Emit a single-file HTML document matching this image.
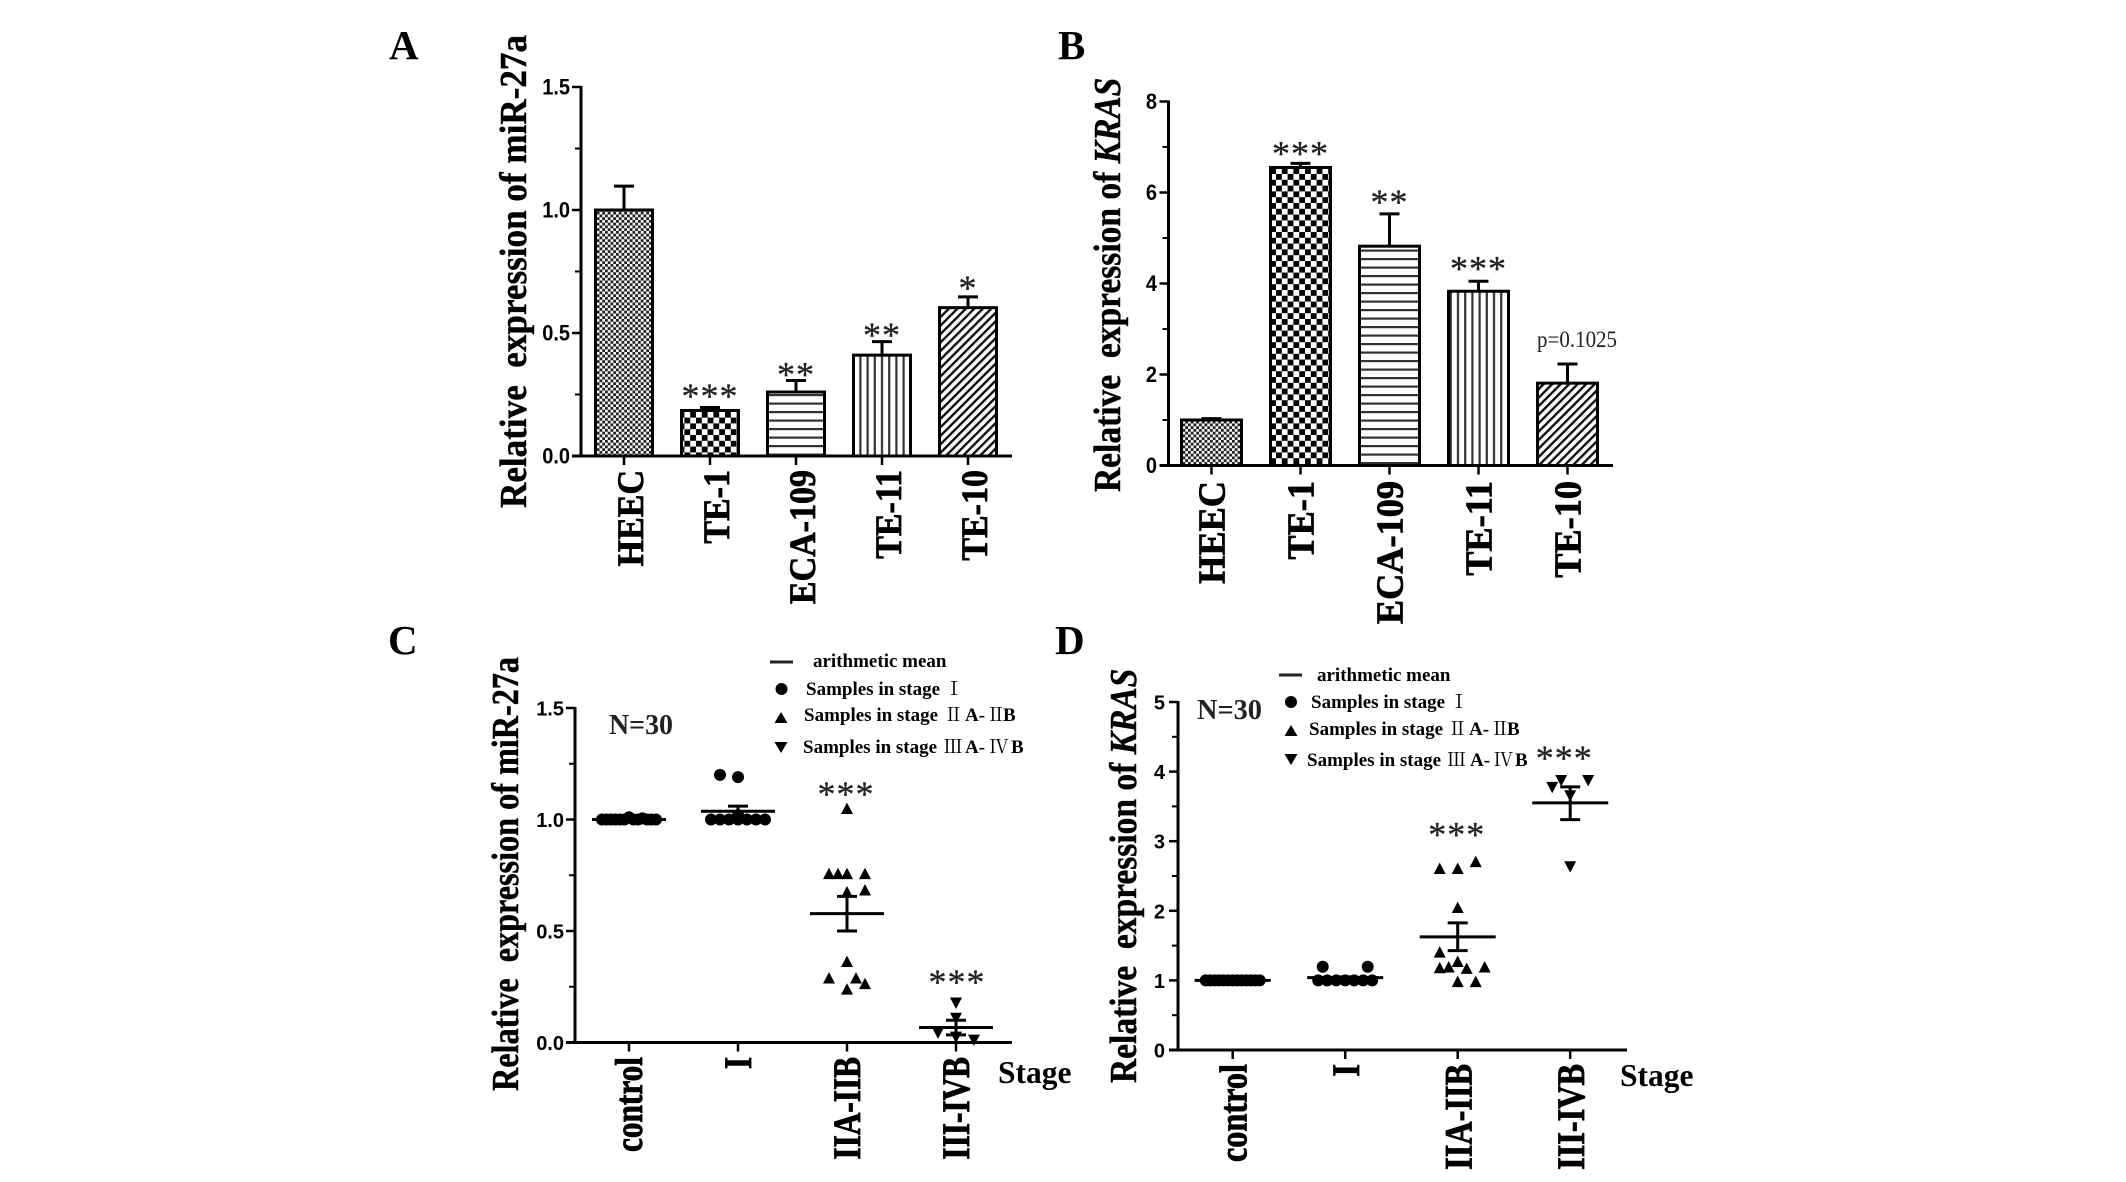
<!DOCTYPE html>
<html lang="en">
<head>
<meta charset="utf-8">
<title>miR-27a and KRAS expression figure</title>
<style>
  html, body { margin: 0; padding: 0; background: #fff; }
  body { width: 2126px; height: 1182px; overflow: hidden; }
  svg { display: block; filter: blur(0.35px); }
  text { white-space: pre; fill: #000; }
  .serif { font-family: "Liberation Serif", "Noto Serif CJK SC", serif; font-weight: 700; }
  .sans { font-family: "Liberation Sans", sans-serif; font-weight: 700; }
  .cjk { font-family: "Noto Serif CJK SC", "Liberation Serif", serif; font-weight: 400; }
  .heavy { stroke: #000; stroke-width: 0.4px; }
  .heavier { stroke: #000; stroke-width: 0.7px; }
</style>
</head>
<body>
<svg id="figure" width="2126" height="1182" viewBox="0 0 2126 1182">
  <defs>
    <pattern id="fine-check" width="5.5" height="5.5" patternUnits="userSpaceOnUse">
      <rect width="5.5" height="5.5" fill="#f4f4f4"/>
      <rect width="2.75" height="2.75" fill="#222"/>
      <rect x="2.75" y="2.75" width="2.75" height="2.75" fill="#222"/>
    </pattern>
    <pattern id="big-check" width="11.6" height="11.6" patternUnits="userSpaceOnUse">
      <rect width="11.6" height="11.6" fill="#fff"/>
      <rect width="5.8" height="5.8" fill="#000"/>
      <rect x="5.8" y="5.8" width="5.8" height="5.8" fill="#000"/>
    </pattern>
    <pattern id="h-stripes" width="8.5" height="8.5" patternUnits="userSpaceOnUse">
      <rect width="8.5" height="8.5" fill="#fff"/>
      <rect y="3" width="8.5" height="2.2" fill="#333"/>
    </pattern>
    <pattern id="v-stripes" width="7.2" height="7.2" patternUnits="userSpaceOnUse">
      <rect width="7.2" height="7.2" fill="#fff"/>
      <rect x="2.5" width="2.2" height="7.2" fill="#333"/>
    </pattern>
    <pattern id="diag-stripes" width="6" height="6" patternUnits="userSpaceOnUse" patternTransform="rotate(-45)">
      <rect width="6" height="6" fill="#fff"/>
      <rect width="6" height="2.4" fill="#111"/>
    </pattern>
  </defs>

  <g>
    <text class="serif" x="389" y="59" font-size="41">A</text>
    <text class="serif" x="1058" y="59" font-size="41">B</text>
    <text class="serif" x="388" y="654" font-size="41">C</text>
    <text class="serif" x="1055" y="654" font-size="41">D</text>
  </g>

  <text class="serif heavy" transform="translate(526,508) rotate(-90) scale(1,1.05)" font-size="35.8" textLength="473" lengthAdjust="spacingAndGlyphs">Relative  expression of miR-27a</text>
  <text class="serif heavy" transform="translate(1120,492) rotate(-90) scale(1,1.13)" font-size="33.5">Relative  expression of <tspan font-style="italic">KRAS</tspan></text>
  <text class="serif heavy" transform="translate(518,1091) rotate(-90) scale(1,1.15)" font-size="32.9" textLength="434" lengthAdjust="spacingAndGlyphs">Relative  expression of miR-27a</text>
  <text class="serif heavy" transform="translate(1136,1083) rotate(-90) scale(1,1.13)" font-size="33.5">Relative  expression of <tspan font-style="italic">KRAS</tspan></text>

  <text transform="translate(1537,347) scale(1,1.1)" font-family="Liberation Serif, serif" font-size="21" style="fill:#222">p=0.1025</text>

  <text class="serif" x="609" y="734" font-size="28" textLength="64" lengthAdjust="spacingAndGlyphs" style="fill:#222">N=30</text>
  <text class="serif" x="1197" y="719" font-size="28" textLength="65" lengthAdjust="spacingAndGlyphs" style="fill:#222">N=30</text>
  <text class="serif" x="998" y="1083" font-size="31.5">Stage</text>
  <text class="serif" x="1620" y="1086" font-size="31.5">Stage</text>

  <g>
    <rect x="770" y="660.5" width="23" height="3" fill="#222"/>
    <text class="serif" x="813" y="667" font-size="19">arithmetic mean</text>
    <circle cx="781.5" cy="689" r="6" fill="#000"/>
    <text class="serif" x="806" y="695" font-size="19">Samples in stage<tspan class="cjk" x="944.5">Ⅰ</tspan></text>
    <path d="M781 712 L787.5 723 L774.5 723 Z" fill="#000"/>
    <text class="serif" x="804" y="721" font-size="19">Samples in stage<tspan class="cjk" x="944">Ⅱ</tspan><tspan x="965">A-</tspan><tspan class="cjk" x="986.5">Ⅱ</tspan><tspan x="1003">B</tspan></text>
    <path d="M781 753 L787.5 742 L774.5 742 Z" fill="#000"/>
    <text class="serif" x="803" y="753" font-size="19">Samples in stage<tspan class="cjk" x="943.5">Ⅲ</tspan><tspan x="965">A-</tspan><tspan class="cjk" x="989.5">Ⅳ</tspan><tspan x="1011">B</tspan></text>
  </g>

  <g>
    <rect x="1279" y="673.5" width="23" height="3" fill="#222"/>
    <text class="serif" x="1317" y="681" font-size="19">arithmetic mean</text>
    <circle cx="1291" cy="702" r="6" fill="#000"/>
    <text class="serif" x="1311" y="708" font-size="19">Samples in stage<tspan class="cjk" x="1449.5">Ⅰ</tspan></text>
    <path d="M1291 725 L1297.5 736 L1284.5 736 Z" fill="#000"/>
    <text class="serif" x="1309" y="735" font-size="19">Samples in stage<tspan class="cjk" x="1448">Ⅱ</tspan><tspan x="1469">A-</tspan><tspan class="cjk" x="1490.5">Ⅱ</tspan><tspan x="1507">B</tspan></text>
    <path d="M1291 765 L1297.5 754 L1284.5 754 Z" fill="#000"/>
    <text class="serif" x="1307" y="766" font-size="19">Samples in stage<tspan class="cjk" x="1447">Ⅲ</tspan><tspan x="1470">A-</tspan><tspan class="cjk" x="1494">Ⅳ</tspan><tspan x="1515">B</tspan></text>
  </g>
</svg>

<script>
/* ---------- Panel A data ---------- */
const barCategoriesA = ['HEEC', 'TE-1', 'ECA-109', 'TE-11', 'TE-10'];
const barValuesA = [1.0, 0.185, 0.26, 0.41, 0.603];
const barErrorsA = [0.097, 0.012, 0.047, 0.055, 0.044];
const barStarsA = ['', '***', '**', '**', '*'];
const starLevelsA = [0, 0.256, 0.344, 0.505, 0.695];
const yTicksA = [0, 0.5, 1.0, 1.5];
const yTickLabelsA = ['0.0', '0.5', '1.0', '1.5'];
const yMinorTicksA = [0.25, 0.75, 1.25];

/* ---------- Panel B data ---------- */
const barCategoriesB = ['HEEC', 'TE-1', 'ECA-109', 'TE-11', 'TE-10'];
const barValuesB = [1.0, 6.55, 4.82, 3.83, 1.81];
const barErrorsB = [0.03, 0.09, 0.71, 0.22, 0.42];
const barStarsB = ['', '***', '**', '***', ''];
const starLevelsB = [0, 6.92, 5.86, 4.40, 0];
const yTicksB = [0, 2, 4, 6, 8];
const yTickLabelsB = ['0', '2', '4', '6', '8'];
const yMinorTicksB = [1, 3, 5, 7];

/* ---------- Panel C data ---------- */
const groupLabelsC = ['control', 'I', 'IIA-IIB', 'III-IVB'];
const groupMarkersC = ['circle', 'circle', 'triangle', 'inverted'];
const groupValuesC = [
  [1, 1, 1, 1, 1, 1, 1.01, 1, 1, 1.005, 1, 1, 1],
  [1, 1, 1, 1, 1, 1, 1, 1.02, 1.2, 1.19],
  [1.05, 0.758, 0.758, 0.758, 0.758, 0.676, 0.685, 0.364, 0.29, 0.29, 0.265, 0.24],
  [0.176, 0.108, 0.042, 0.023, 0.01]
];
const groupSlotsC = [
  [-3, -2.5, -2, -1.5, -1, -0.5, 0, 0.5, 1, 1.5, 2, 2.5, 3],
  [-3, -2, -1, 0, 1, 2, 3, 0, -2, 0],
  [0, -2, -1, 0, 2, 0, 2, 0, -2, 1, 2, 0],
  [0, 0, -2, 0, 2]
];
const groupMeansC = [1.0, 1.037, 0.578, 0.067];
const groupUpperC = [1.0, 1.06, 0.655, 0.1];
const groupLowerC = [1.0, 1.014, 0.5, 0.034];
const groupStarsC = ['', '', '***', '***'];
const starLevelsC = [0, 0, 1.128, 0.284];
const yTicksC = [0, 0.5, 1.0, 1.5];
const yTickLabelsC = ['0.0', '0.5', '1.0', '1.5'];
const yMinorTicksC = [0.25, 0.75, 1.25];

/* ---------- Panel D data ---------- */
const groupLabelsD = ['control', 'I', 'IIA-IIB', 'III-IVB'];
const groupMarkersD = ['circle', 'circle', 'triangle', 'inverted'];
const groupValuesD = [
  [1, 1, 1, 1, 1, 1, 1, 1, 1, 1, 1, 1, 1],
  [1, 1, 1, 1, 1, 1, 1, 1.196, 1.196],
  [2.61, 2.61, 2.71, 2.05, 1.41, 1.275, 1.196, 1.185, 1.175, 1.196, 0.986, 0.986],
  [3.87, 3.87, 3.77, 3.65, 2.63]
];
const groupSlotsD = [
  [-3, -2.5, -2, -1.5, -1, -0.5, 0, 0.5, 1, 1.5, 2, 2.5, 3],
  [-3, -2, -1, 0, 1, 2, 3, -2.5, 2.5],
  [-2, 0, 2, 0, -2, 0, -1, -2, 1, 3, 0, 2],
  [-1, 2, -2, 0, 0]
];
const groupMeansD = [1.0, 1.04, 1.626, 3.55];
const groupUpperD = [1.0, 1.05, 1.826, 3.78];
const groupLowerD = [1.0, 1.03, 1.427, 3.31];
const groupStarsD = ['', '', '***', '***'];
const starLevelsD = [0, 0, 3.14, 4.24];
const yTicksD = [0, 1, 2, 3, 4, 5];
const yTickLabelsD = ['0', '1', '2', '3', '4', '5'];
const yMinorTicksD = [0.5, 1.5, 2.5, 3.5, 4.5];

const barFills = ['url(#fine-check)', 'url(#big-check)', 'url(#h-stripes)', 'url(#v-stripes)', 'url(#diag-stripes)'];

const NS = 'http://www.w3.org/2000/svg';
const root = document.getElementById('figure');

function shape(tag, name, parent) {
  const el = document.createElementNS(NS, tag);
  
  
  parent.appendChild(el);
  return el;
}

function line(name, parent, x1, y1, x2, y2, width) {
  const el = shape('line', name, parent);
  el.setAttribute('x1', x1);
  el.setAttribute('y1', y1);
  el.setAttribute('x2', x2);
  el.setAttribute('y2', y2);
  el.setAttribute('stroke', '#000');
  el.setAttribute('stroke-width', width);
  return el;
}

function yAxisFn(geom) {
  return function (v) {
    return geom.y0 - (v / geom.vMax) * (geom.y0 - geom.yTop);
  };
}

function drawAxes(key, geom, ticks, labels, minor, y, group) {
  line('y-axis-' + key, group, geom.x0, geom.yTop - 1, geom.x0, geom.y0 + 1.5, 3);
  line('x-axis-' + key, group, geom.x0 - 9, geom.y0, geom.xEnd, geom.y0, 3);
  ticks.forEach(function (t, i) {
    if (t !== 0) {
      line('y-tick-' + key + '-' + labels[i], group, geom.x0 - 9, y(t), geom.x0, y(t), 2.5);
    }
    const lab = shape('text', 'y-tick-label-' + key + '-' + labels[i], group);
    lab.setAttribute('class', 'sans');
    lab.setAttribute('font-size', geom.tickSize);
    lab.setAttribute('text-anchor', 'end');
    lab.setAttribute('transform', 'translate(' + geom.tickRight + ',' + (y(t) + 7.5) + ') scale(1,' + geom.tickStretch + ')');
    lab.textContent = labels[i];
  });
  minor.forEach(function (t) {
    line('y-minor-tick-' + key, group, geom.x0 - 6, y(t), geom.x0, y(t), 2);
  });
}

function drawCategoryLabel(key, text, geom, x, group) {
  const lab = shape('text', 'x-tick-label-' + key + '-' + text, group);
  lab.setAttribute('class', 'serif heavier');
  lab.setAttribute('font-size', geom.labelSize);
  lab.setAttribute('text-anchor', 'end');
  lab.setAttribute('transform', 'translate(' + (x + geom.labelShift) + ',' + geom.labelTop + ') rotate(-90) scale(1,' + geom.labelStretch + ')');
  lab.textContent = text;
}

function drawStars(key, text, x, centerY, group) {
  if (!text) { return; }
  const s = shape('text', 'significance-stars-' + key, group);
  s.setAttribute('font-family', 'Liberation Serif, serif');
  s.setAttribute('font-size', 36);
  s.setAttribute('text-anchor', 'middle');
  s.setAttribute('letter-spacing', '1');
  s.setAttribute('x', x);
  s.setAttribute('y', centerY + 15);
  s.setAttribute('style', 'fill:#222;stroke:#222;stroke-width:0.3px');
  s.textContent = text;
}

function drawBarPanel(key, geom, cats, vals, errs, stars, starLevels, ticks, labels, minor) {
  const group = shape('g', 'bar-chart-' + key, root);
  const y = yAxisFn(geom);
  cats.forEach(function (c, i) {
    const cx = geom.firstX + i * geom.step;
    line('error-bar-' + key + '-' + c, group, cx, y(vals[i]), cx, y(vals[i] + errs[i]), 3);
    line('error-cap-' + key + '-' + c, group, cx - 10, y(vals[i] + errs[i]), cx + 10, y(vals[i] + errs[i]), 3);
    const bar = shape('rect', 'bar-' + key + '-' + c, group);
    bar.setAttribute('x', cx - geom.barWidth / 2);
    bar.setAttribute('y', y(vals[i]));
    bar.setAttribute('width', geom.barWidth);
    bar.setAttribute('height', geom.y0 - y(vals[i]));
    bar.setAttribute('fill', barFills[i]);
    bar.setAttribute('stroke', '#000');
    bar.setAttribute('stroke-width', 3);
    line('x-tick-' + key + '-' + c, group, cx, geom.y0, cx, geom.y0 + 9, 2.5);
    drawCategoryLabel(key, c, geom, cx, group);
    drawStars(key + '-' + c, stars[i], cx, y(starLevels[i]), group);
  });
  drawAxes(key, geom, ticks, labels, minor, y, group);
}

function drawMarker(kind, name, parent, x, py, size) {
  if (kind === 'circle') {
    const c = shape('circle', name, parent);
    c.setAttribute('cx', x);
    c.setAttribute('cy', py);
    c.setAttribute('r', size);
    c.setAttribute('fill', '#000');
    return;
  }
  const p = shape('path', name, parent);
  const dir = kind === 'triangle' ? 1 : -1;
  const h = size * 0.95;
  p.setAttribute('d', 'M' + x + ' ' + (py - dir * h) + ' L' + (x + size) + ' ' + (py + dir * h) + ' L' + (x - size) + ' ' + (py + dir * h) + ' Z');
  p.setAttribute('fill', '#000');
}

function drawScatterPanel(key, geom, cats, markers, vals, slots, means, upper, lower, stars, starLevels, ticks, labels, minor) {
  const group = shape('g', 'scatter-chart-' + key, root);
  const y = yAxisFn(geom);
  cats.forEach(function (c, i) {
    const cx = geom.firstX + i * geom.step;
    vals[i].forEach(function (v, j) {
      drawMarker(markers[i], 'point-' + key + '-' + c, group, cx + slots[i][j] * geom.slot, y(v), geom.markerSize);
    });
    line('mean-line-' + key + '-' + c, group, cx - geom.meanHalf, y(means[i]), cx + geom.meanHalf, y(means[i]), 3);
    if (upper[i] !== lower[i]) {
      line('sem-stem-' + key + '-' + c, group, cx, y(upper[i]), cx, y(lower[i]), 3);
      line('sem-cap-upper-' + key + '-' + c, group, cx - 10, y(upper[i]), cx + 10, y(upper[i]), 3);
      line('sem-cap-lower-' + key + '-' + c, group, cx - 10, y(lower[i]), cx + 10, y(lower[i]), 3);
    }
    line('x-tick-' + key + '-' + c, group, cx, geom.y0, cx, geom.y0 + 9, 2.5);
    drawCategoryLabel(key, c, geom, cx, group);
    drawStars(key + '-' + c, stars[i], cx + geom.starShift[i], y(starLevels[i]), group);
  });
  drawAxes(key, geom, ticks, labels, minor, y, group);
}

drawBarPanel('a', {
  x0: 581, xEnd: 1012, y0: 456, yTop: 87, vMax: 1.5,
  firstX: 624, step: 86, barWidth: 57,
  tickSize: 20, tickRight: 570, tickStretch: 1.1,
  labelSize: 34, labelStretch: 1.1, labelTop: 470, labelShift: 19
}, barCategoriesA, barValuesA, barErrorsA, barStarsA, starLevelsA, yTicksA, yTickLabelsA, yMinorTicksA);

drawBarPanel('b', {
  x0: 1168.5, xEnd: 1613, y0: 465.5, yTop: 101.5, vMax: 8,
  firstX: 1211.5, step: 89, barWidth: 60,
  tickSize: 20, tickRight: 1157, tickStretch: 1.1,
  labelSize: 36.3, labelStretch: 1.06, labelTop: 481, labelShift: 13
}, barCategoriesB, barValuesB, barErrorsB, barStarsB, starLevelsB, yTicksB, yTickLabelsB, yMinorTicksB);

drawScatterPanel('c', {
  x0: 575, xEnd: 1012, y0: 1042.5, yTop: 708, vMax: 1.5,
  firstX: 629, step: 109, slot: 9, markerSize: 6, meanHalf: 37, starShift: [0, 0, -1, 1],
  tickSize: 20, tickRight: 564, tickStretch: 1,
  labelSize: 31.3, labelStretch: 1.25, labelTop: 1057, labelShift: 13
}, groupLabelsC, groupMarkersC, groupValuesC, groupSlotsC, groupMeansC, groupUpperC, groupLowerC, groupStarsC, starLevelsC, yTicksC, yTickLabelsC, yMinorTicksC);

drawScatterPanel('d', {
  x0: 1178, xEnd: 1627, y0: 1050, yTop: 702, vMax: 5,
  firstX: 1232.7, step: 112.5, slot: 9, markerSize: 6, meanHalf: 38, starShift: [0, 0, -1, -6],
  tickSize: 20, tickRight: 1165, tickStretch: 1,
  labelSize: 32.3, labelStretch: 1.2, labelTop: 1064, labelShift: 14
}, groupLabelsD, groupMarkersD, groupValuesD, groupSlotsD, groupMeansD, groupUpperD, groupLowerD, groupStarsD, starLevelsD, yTicksD, yTickLabelsD, yMinorTicksD);
</script>
</body>
</html>
